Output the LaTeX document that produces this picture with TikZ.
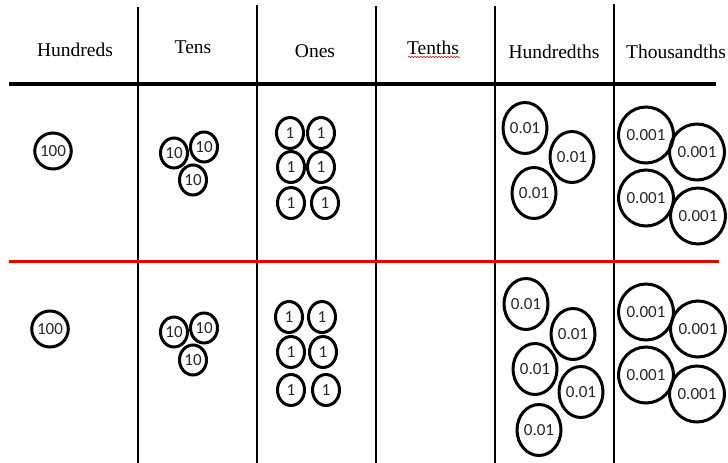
\documentclass[tikz,border=0pt]{standalone}
\usepackage{fontspec}
\setmainfont{Liberation Serif}
\newfontfamily\coinfont{Carlito}
\usetikzlibrary{shapes.geometric,decorations.pathmorphing}
\begin{document}
\begin{tikzpicture}[x=1pt,y=-1pt,
  gridline/.style={line width=2.8pt,black},
  redline/.style={line width=3pt,red!90!black},
  head/.style={font=\fontsize{19.5}{22}\selectfont,anchor=base,inner sep=0pt},
  coin/.style={draw,ellipse,line width=3pt,inner sep=0pt,
    font=\coinfont\fontsize{17}{19}\selectfont,text=black!85},
  c1/.style={coin,minimum width=27pt,minimum height=31pt},
  c10/.style={coin,minimum width=27pt,minimum height=30pt},
  c100/.style={coin,minimum width=33pt,minimum height=36pt},
  c01/.style={coin,minimum width=44pt,minimum height=51pt},
  c001/.style={coin,minimum width=49pt,minimum height=56pt}]
\useasboundingbox (0,0) rectangle (728,463);
% grid
\draw[gridline] (138,7) -- (138,463);
\draw[gridline] (257,5) -- (257,463);
\draw[gridline] (376,6) -- (376,463);
\draw[gridline] (495,6) -- (495,463);
\draw[gridline] (614,4) -- (614,463);
\draw[gridline,line width=3.4pt] (9,84) -- (716,84);
\draw[redline] (9,261) -- (719,261);
% headers
\node[head] (hH) at (75,56) {Hundreds};
\node[head] (hT) at (193,53) {Tens};
\node[head] (hO) at (315,57) {Ones};
\node[head] (hTe) at (433,54) {Tenths};
\node[head] (hHu) at (554,58) {Hundredths};
\node[head] (hTh) at (676,58) {Thousandths};
\draw[red!85!black,line width=0.6pt,decorate,decoration={snake,amplitude=0.7pt,segment length=3pt}] (408,57) -- (460,57);
% top row
\node[c100] (a100) at (53,151) {100};
\node[c10] (a10a) at (174,153) {10};
\node[c10] (a10b) at (204,147) {10};
\node[c10] (a10c) at (193,180) {10};
\node[c1] (a1a) at (290,133) {1};
\node[c1] (a1b) at (321,133) {1};
\node[c1] (a1c) at (291,167) {1};
\node[c1] (a1d) at (321,167) {1};
\node[c1] (a1e) at (291,203) {1};
\node[c1] (a1f) at (325,203) {1};
\node[c01] (a01a) at (525,128) {0.01};
\node[c01] (a01b) at (572,157) {0.01};
\node[c01] (a01c) at (534,193) {0.01};
\node[c001] (a001a) at (646,135) {0.001};
\node[c001] (a001b) at (697,152) {0.001};
\node[c001] (a001c) at (646,198) {0.001};
\node[c001] (a001d) at (698,216) {0.001};
% bottom row
\node[c100] (b100) at (50,329) {100};
\node[c10] (b10a) at (174,332) {10};
\node[c10] (b10b) at (204,328) {10};
\node[c10] (b10c) at (193,360) {10};
\node[c1] (b1a) at (289,317) {1};
\node[c1] (b1b) at (322,317) {1};
\node[c1] (b1c) at (291,352) {1};
\node[c1] (b1d) at (323,352) {1};
\node[c1] (b1e) at (291,390) {1};
\node[c1] (b1f) at (326,390) {1};
\node[c01] (b01a) at (526,304) {0.01};
\node[c01] (b01b) at (573,334) {0.01};
\node[c01] (b01c) at (535,369) {0.01};
\node[c01] (b01d) at (581,392) {0.01};
\node[c01] (b01e) at (539,430) {0.01};
\node[c001] (b001a) at (646,312) {0.001};
\node[c001] (b001b) at (698,329) {0.001};
\node[c001] (b001c) at (646,375) {0.001};
\node[c001] (b001d) at (697,394) {0.001};
\end{tikzpicture}
\end{document}
